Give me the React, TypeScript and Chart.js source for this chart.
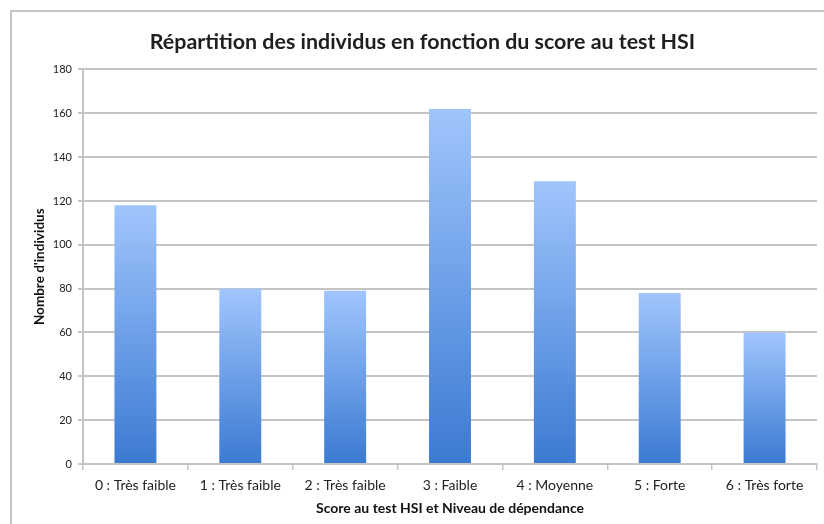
import React, { useEffect, useRef } from "react";
import { Chart, registerables } from "chart.js";

Chart.register(...registerables);

const categories = [
  "0 : Très faible",
  "1 : Très faible",
  "2 : Très faible",
  "3 : Faible",
  "4 : Moyenne",
  "5 : Forte",
  "6 : Très forte",
];
const counts = [118, 80, 79, 162, 129, 78, 60];
const titleText = "Répartition des individus en fonction du score au test HSI";
const yTitle = "Nombre d'individus";
const xTitle = "Score au test HSI et Niveau de dépendance";
const yMin = 0;
const yMax = 180;
const yStep = 20;

const FONT = "Lato, 'Open Sans', sans-serif";

const frame = {
  id: "frame",
  beforeDraw(chart: any) {
    const ctx = chart.ctx;
    ctx.save();
    ctx.fillStyle = "#ffffff";
    ctx.fillRect(0, 0, chart.width, chart.height);
    ctx.strokeStyle = "#c6c6c6";
    ctx.lineWidth = 2;
    ctx.beginPath();
    ctx.moveTo(11, chart.height);
    ctx.lineTo(11, 11);
    ctx.lineTo(chart.width, 11);
    ctx.stroke();
    ctx.restore();
  },
};

export default function App() {
  const ref = useRef<HTMLCanvasElement>(null);
  useEffect(() => {
    if (!ref.current) return;
    const chart = new Chart(ref.current, {
      type: "bar",
      data: {
        labels: categories,
        datasets: [
          {
            data: counts,
            backgroundColor: (c: any) => {
              const ch = c.chart;
              const y = ch.scales && ch.scales.y;
              if (!y || c.type !== "data") return "#6a9de6";
              const top = y.getPixelForValue(c.raw);
              const bottom = y.getPixelForValue(0);
              if (!isFinite(top) || !isFinite(bottom)) return "#6a9de6";
              const g = ch.ctx.createLinearGradient(0, top, 0, bottom);
              g.addColorStop(0, "#a0c5fd");
              g.addColorStop(1, "#3b7ad2");
              return g;
            },
            borderWidth: 0,
            barPercentage: 0.4,
            categoryPercentage: 1,
          },
        ],
      },
      options: {
        responsive: false,
        animation: false,
        layout: { padding: { left: 28, right: 7, top: 0, bottom: 0 } },
        plugins: {
          legend: { display: false },
          tooltip: { enabled: false },
          title: {
            display: true,
            text: titleText,
            color: "#1e1e1e",
            font: { family: FONT, size: 21.4, weight: "bold" },
            padding: { top: 29.2, bottom: 14.6 },
          },
        },
        scales: {
          x: {
            grid: {
              display: true,
              drawOnChartArea: false,
              drawTicks: true,
              tickLength: 6,
              offset: true,
              color: "#c4c4c4",
              lineWidth: 1.5,
            },
            border: { display: true, color: "#c4c4c4", width: 2 },
            ticks: {
              color: "#222",
              font: { family: FONT, size: 14 },
              padding: 7,
              maxRotation: 0,
            },
            title: {
              display: true,
              text: xTitle,
              color: "#111",
              font: { family: FONT, size: 14, weight: "bold" },
              padding: { top: 0, bottom: 7.6 },
            },
            afterFit: (s: any) => {
              s.height = 60;
            },
          },
          y: {
            min: yMin,
            max: yMax,
            grid: {
              color: "#c4c4c4",
              lineWidth: 2,
              tickLength: 5,
            },
            border: { display: true, color: "#c4c4c4", width: 2 },
            ticks: {
              stepSize: yStep,
              color: "#222",
              font: { family: FONT, size: 11 },
              padding: 6,
            },
            title: {
              display: true,
              text: yTitle,
              color: "#111",
              font: { family: FONT, size: 13.5, weight: "bold" },
              padding: { top: 4, bottom: 0 },
            },
            afterFit: (s: any) => {
              s.width = 55;
            },
          },
        },
      },
      plugins: [frame],
    });
    return () => chart.destroy();
  }, []);
  return (
    <div style={{ position: "fixed", left: 0, top: 0, width: 824, height: 524, background: "#fff" }}>
      <canvas ref={ref} width={824} height={524} style={{ width: 824, height: 524, display: "block" }} />
    </div>
  );
}
